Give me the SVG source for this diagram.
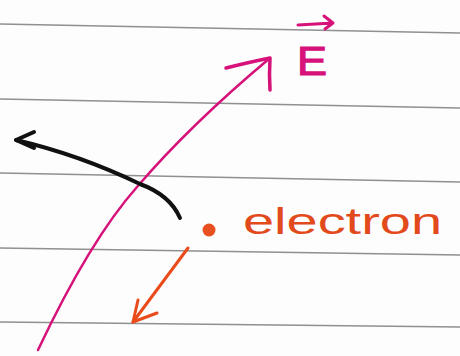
<svg xmlns="http://www.w3.org/2000/svg" width="460" height="356" viewBox="0 0 460 356">
<style>
.rule{stroke:#6b6b6b;stroke-width:1.3;fill:none;opacity:0.75}
.mag{stroke:#d6117a;fill:none;stroke-linecap:round;stroke-linejoin:round}
.blk{stroke:#111;fill:none;stroke-width:4;stroke-linecap:round;stroke-linejoin:round}
.org{stroke:#ea4b1a;fill:none;stroke-width:3;stroke-linecap:round;stroke-linejoin:round}
</style>
<rect width="460" height="356" fill="#fdfdfd"/>
<g id="paper-lines">
<path class="rule" d="M0 24 L460 33"/>
<path class="rule" d="M0 99 L460 108"/>
<path class="rule" d="M0 173 L460 182"/>
<path class="rule" d="M0 248 L460 255"/>
<path class="rule" d="M0 322 L460 327"/>
</g>
<g id="connectors">
<g id="field-line">
<path class="mag" stroke-width="2.5" d="M38 350 Q90 240 137 187 Q190 125 270 58"/>
<path class="mag" stroke-width="3.5" d="M226 68 Q250 62 270 58 Q269 75 270 90"/>
</g>
<g id="force-arrow">
<path class="blk" d="M180 218 Q170 195 140 184 Q80 155 16 140"/>
<path class="blk" d="M34 132 L16 140 L34 148"/>
</g>
<g id="motion-arrow">
<path class="org" d="M188 248 L133 322"/>
<path class="org" d="M138 300 L133 322 L157 313"/>
</g>
</g>
<g id="E-label">
<text x="297" y="75" font-family="Liberation Sans, sans-serif" font-size="40" fill="#d6117a" stroke="#d6117a" stroke-width="1.2" textLength="30" lengthAdjust="spacingAndGlyphs">E</text>
<path class="mag" stroke-width="3" d="M298 25 L333 23 M324 16 L333 23 L325 29"/>
</g>
<g id="electron">
<circle cx="209" cy="230" r="6.5" fill="#e8501f"/>
<text x="243" y="234" font-family="Liberation Sans, sans-serif" font-size="36" fill="#e24a1c" textLength="199" lengthAdjust="spacingAndGlyphs">electron</text>
</g>
</svg>
